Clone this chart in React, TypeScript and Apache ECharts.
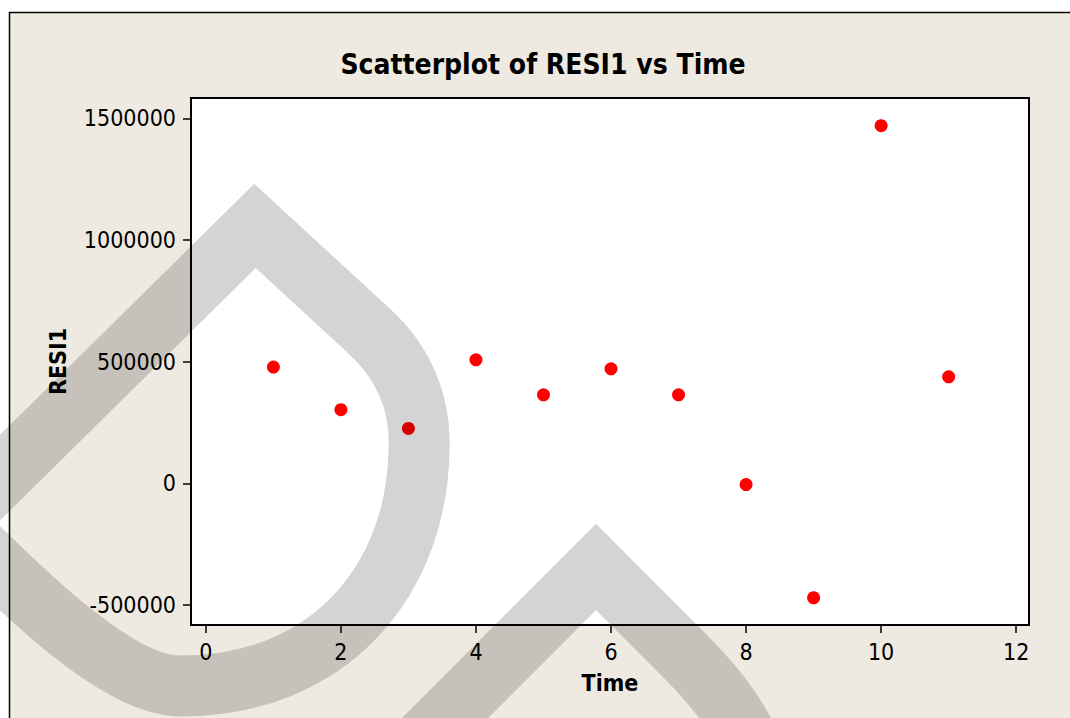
import React, { useEffect, useRef } from "react";
import * as echarts from "echarts";

const timeValues = [1, 2, 3, 4, 5, 6, 7, 8, 9, 10, 11];
const resiValues = [478000, 303000, 226000, 508000, 364000, 471000, 364000, -5000, -470000, 1470000, 438000];
const xTicks = [0, 2, 4, 6, 8, 10, 12];
const yTicks = [-500000, 0, 500000, 1000000, 1500000];

const FONT = "'DejaVu Sans Condensed', 'Liberation Sans', sans-serif";
const BEIGE = "#EEEAE1";
const WM = "rgba(0,0,0,0.17)";

const wmA = "M -46 523 L 255 226 L 368 330 C 408 366 421 410 419 450 C 417 580 330 686 180 686 C 120 686 30 600 -46 523 Z";
const wmB = "M 400 763 L 596 567 L 680 651 C 710 681 735 710 750 745";

let registered = false;
function registerShapes() {
  if (registered) return;
  registered = true;
  echarts.graphic.registerShape("wmA", echarts.graphic.extendPath(wmA, {}));
  echarts.graphic.registerShape("wmB", echarts.graphic.extendPath(wmB, {}));
}

export default function App() {
  const ref = useRef<HTMLDivElement>(null);
  useEffect(() => {
    if (!ref.current) return;
    registerShapes();
    const chart = echarts.init(ref.current, null, { renderer: "svg" });
    const data = timeValues.map((t, i) => [t, resiValues[i]]);
    chart.setOption({
      animation: false,
      backgroundColor: "#ffffff",
      title: {
        text: "Scatterplot of RESI1 vs Time",
        left: 538,
        top: 45,
        textAlign: "center",
        textStyle: { fontFamily: FONT, fontWeight: "bold", fontSize: 28, color: "#000" },
      },
      grid: {
        left: 191,
        top: 98,
        right: 41,
        bottom: 93,
        show: true,
        backgroundColor: "#ffffff",
        borderColor: "#000",
        borderWidth: 2,
        z: 2,
      },
      xAxis: {
        type: "value",
        min: -0.22,
        max: 12.19,
        name: "Time",
        nameLocation: "middle",
        nameGap: 46,
        nameTextStyle: { fontFamily: FONT, fontWeight: "bold", fontSize: 23, color: "#000" },
        axisLine: { show: true, onZero: false, lineStyle: { color: "#000", width: 2 } },
        axisTick: { show: true, length: 8, lineStyle: { color: "#000", width: 1.5 }, customValues: xTicks },
        axisLabel: { margin: 15, fontFamily: FONT, fontSize: 23, color: "#000", customValues: xTicks },
        splitLine: { show: false },
      },
      yAxis: {
        type: "value",
        min: -582000,
        max: 1584000,
        name: "RESI1",
        nameLocation: "middle",
        nameGap: 122,
        nameRotate: 90,
        nameTextStyle: { fontFamily: FONT, fontWeight: "bold", fontSize: 23, color: "#000" },
        axisLine: { show: true, onZero: false, lineStyle: { color: "#000", width: 2 } },
        axisTick: { show: true, length: 8, lineStyle: { color: "#000", width: 1.5 }, customValues: yTicks },
        axisLabel: {
          margin: 15,
          fontFamily: FONT,
          fontSize: 23,
          color: "#000",
          customValues: yTicks,
          formatter: (v: number) => String(v),
        },
        splitLine: { show: false },
      },
      series: [
        {
          type: "scatter",
          data,
          symbol: "circle",
          symbolSize: 13,
          itemStyle: { color: "#FF0000", opacity: 1 },
          z: 3,
        },
      ],
      graphic: [
        {
          type: "rect",
          z: -10,
          shape: { x: 9.5, y: 12.5, width: 1200, height: 900 },
          style: { fill: BEIGE, stroke: "#000", lineWidth: 1.5 },
          silent: true,
        },
        {
          type: "wmA",
          x: 0,
          y: 0,
          z: 100,
          silent: true,
          style: { fill: "none", stroke: WM, lineWidth: 61, lineJoin: "miter", miterLimit: 10 },
        },
        {
          type: "wmB",
          x: 0,
          y: 0,
          z: 100,
          silent: true,
          style: { fill: "none", stroke: WM, lineWidth: 61, lineJoin: "miter", miterLimit: 10 },
        },
      ],
    });
    return () => chart.dispose();
  }, []);
  return (
    <div
      ref={ref}
      style={{ position: "fixed", left: 0, top: 0, width: 1070, height: 718 }}
    />
  );
}
